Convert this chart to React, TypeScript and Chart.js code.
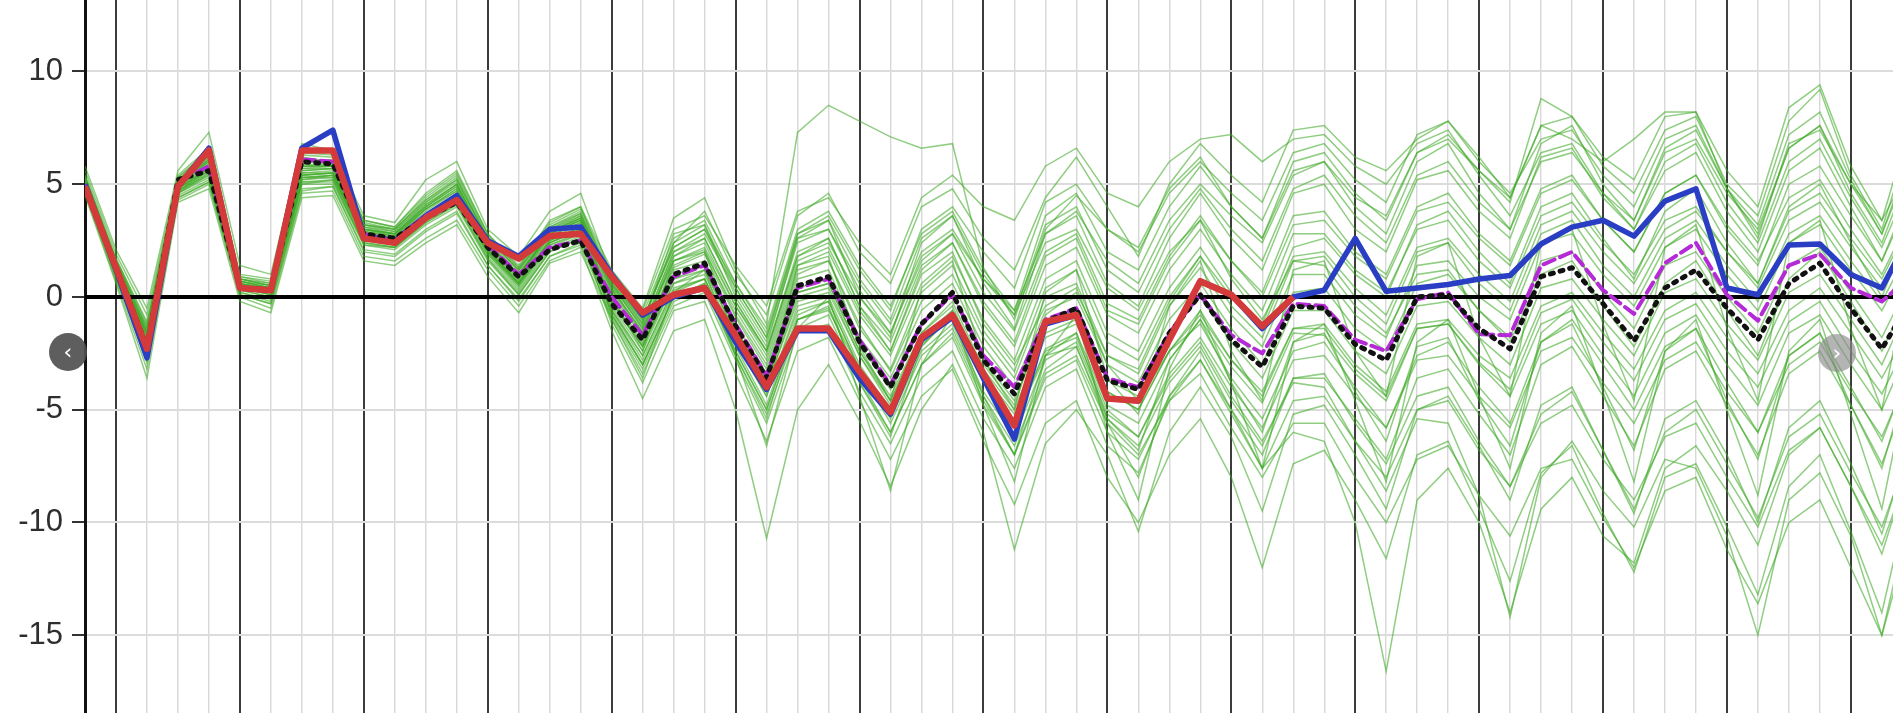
import { useEffect, useRef } from 'react';
import { Chart, registerables } from 'chart.js';

Chart.register(...registerables);

// 6-hourly forecast steps (index along the x axis)
const steps = [0, 1, 2, 3, 4, 5, 6, 7, 8, 9, 10, 11, 12, 13, 14, 15, 16, 17, 18, 19, 20, 21, 22, 23, 24, 25, 26, 27, 28, 29, 30, 31, 32, 33, 34, 35, 36, 37, 38, 39, 40, 41, 42, 43, 44, 45, 46, 47, 48, 49, 50, 51, 52, 53, 54, 55, 56, 57, 58, 59];

const yTicks = [-15, -10, -5, 0, 5, 10];

const redSeries = [4.9, 1.3, -2.3, 4.9, 6.5, 0.4, 0.3, 6.5, 6.5, 2.6, 2.4, 3.5, 4.3, 2.4, 1.7, 2.7, 2.8, 0.9, -0.7, 0.1, 0.4, -1.7, -4.0, -1.4, -1.4, -3.3, -5.1, -1.8, -0.8, -3.4, -5.7, -1.1, -0.8, -4.5, -4.6, -1.9, 0.7, 0.1, -1.3, 0.0];

const blueSeries = [5.0, 1.2, -2.7, 4.9, 6.6, 0.4, 0.3, 6.6, 7.4, 2.7, 2.5, 3.6, 4.5, 2.5, 1.8, 3.0, 3.1, 1.0, -0.8, 0.0, 0.4, -2.0, -4.1, -1.5, -1.5, -3.6, -5.2, -1.9, -0.9, -3.6, -6.3, -1.2, -0.8, -4.5, -4.6, -1.9, 0.7, 0.1, -1.4, 0.0, 0.3, 2.6, 0.25, 0.4, 0.55, 0.8, 0.95, 2.35, 3.1, 3.4, 2.7, 4.25, 4.8, 0.4, 0.1, 2.3, 2.35, 1.0, 0.4, 3.0];

const magentaSeries = [4.9, 1.3, -2.2, 5.1, 5.8, 0.4, 0.3, 6.1, 6.0, 2.8, 2.5, 3.6, 4.3, 2.3, 1.0, 2.2, 2.5, 0.0, -1.7, 0.9, 1.4, -1.2, -3.5, 0.4, 0.8, -1.9, -3.9, -1.2, 0.1, -2.6, -4.0, -1.0, -0.5, -3.6, -4.0, -1.6, 0.1, -1.7, -2.5, -0.3, -0.4, -1.9, -2.4, -0.1, 0.2, -1.65, -1.7, 1.4, 2.0, 0.3, -0.75, 1.5, 2.4, 0.1, -1.05, 1.4, 1.9, 0.4, -0.2, 1.0];

const blackSeries = [4.8, 1.3, -2.2, 5.2, 5.6, 0.4, 0.3, 6.0, 5.9, 2.8, 2.6, 3.5, 4.2, 2.2, 0.9, 2.1, 2.5, -0.3, -1.9, 1.0, 1.5, -1.3, -3.6, 0.5, 0.9, -2.0, -4.0, -1.2, 0.2, -2.8, -4.3, -1.1, -0.5, -3.7, -4.1, -1.6, 0.1, -1.9, -3.1, -0.4, -0.5, -2.1, -2.8, 0.0, 0.1, -1.4, -2.3, 0.9, 1.3, -0.3, -1.95, 0.4, 1.2, -0.5, -1.9, 0.6, 1.5, -0.5, -2.3, 0.0];

const member01 = [5.1, 1.4, -1.8, 5.0, 5.9, 0.6, 0.4, 5.7, 5.8, 3.0, 2.7, 3.9, 4.8, 2.3, 0.9, 2.8, 3.4, 0.5, -1.4, 1.6, 2.1, -0.8, -3.0, 1.2, 1.6, -1.2, -3.3, -0.2, 1.0, -1.8, -3.6, 0.0, 0.6, -2.6, -3.4, -0.4, 1.3, -0.8, -2.2, 1.0, 1.0, -0.8, -1.8, 1.4, 1.6, 0.0, -1.0, 2.4, 2.8, 1.0, -0.4, 2.2, 3.0, 1.0, -0.6, 2.4, 3.2, 1.2, -0.6, 2.0];
const member02 = [4.9, 1.1, -2.3, 4.7, 5.5, 0.4, 0.1, 5.3, 5.3, 2.6, 2.4, 3.5, 4.3, 1.9, 0.5, 2.3, 2.9, -0.6, -2.6, 0.3, 0.8, -2.0, -4.4, -0.4, 0.0, -3.0, -5.0, -2.1, -0.8, -3.8, -5.7, -2.3, -1.6, -4.8, -5.6, -2.8, -1.0, -3.1, -4.7, -1.6, -1.7, -3.4, -4.6, -1.4, -1.2, -2.9, -4.1, -0.7, -0.1, -2.0, -3.7, -1.0, -0.3, -2.4, -4.0, -1.1, -0.2, -2.4, -4.3, -1.5];
const member03 = [5.3, 1.6, -1.4, 5.2, 6.2, 0.8, 0.5, 6.0, 6.1, 3.2, 2.9, 4.2, 5.1, 2.6, 1.2, 3.0, 3.7, 0.8, -1.0, 2.2, 3.0, 0.2, -2.0, 2.4, 3.0, 0.3, -1.6, 1.6, 2.8, 0.2, -1.5, 2.0, 2.8, -0.3, -1.0, 1.8, 3.6, 1.6, 0.0, 3.2, 3.4, 1.8, 0.8, 3.8, 4.2, 2.6, 1.4, 4.6, 5.2, 3.4, 2.0, 4.6, 5.4, 3.2, 1.6, 4.4, 5.2, 3.0, 1.0, 3.8];
const member04 = [4.7, 0.9, -2.7, 4.5, 5.2, 0.2, -0.2, 5.0, 5.0, 2.3, 2.1, 3.2, 4.0, 1.6, 0.1, 2.0, 2.6, -1.0, -3.4, -0.4, 0.2, -2.8, -5.6, -1.6, -1.2, -4.2, -6.5, -3.6, -2.4, -5.4, -7.6, -4.0, -3.2, -6.6, -7.8, -4.6, -2.8, -5.0, -7.0, -3.6, -3.6, -5.4, -7.2, -3.6, -3.2, -5.2, -7.0, -3.0, -2.2, -4.4, -6.6, -3.2, -2.4, -4.8, -7.0, -3.4, -2.4, -4.8, -7.4, -3.6];
const member05 = [5.6, 1.9, -0.8, 5.4, 6.6, 1.0, 0.8, 6.4, 6.3, 3.4, 3.1, 4.6, 5.6, 2.8, 1.4, 3.3, 4.0, 1.2, -0.5, 3.5, 4.4, 1.2, -1.2, 7.3, 8.5, 7.8, 7.1, 6.6, 6.8, 1.3, -1.0, 3.0, 4.5, 3.0, 2.2, 4.8, 6.2, 4.0, 2.6, 5.6, 6.0, 4.0, 2.8, 6.0, 6.8, 4.6, 3.0, 6.8, 7.6, 5.0, 3.4, 6.6, 7.4, 4.8, 2.8, 6.6, 7.6, 4.6, 2.4, 6.0];
const member06 = [4.6, 0.7, -3.2, 4.3, 5.0, 0.0, -0.5, 4.6, 4.7, 1.8, 1.6, 2.6, 3.4, 1.2, -0.4, 1.6, 2.2, -1.5, -4.5, -1.5, -1.0, -5.0, -10.7, -5.0, -3.0, -5.5, -8.4, -5.0, -3.0, -6.0, -11.2, -6.5, -5.0, -7.0, -10.4, -6.0, -4.0, -6.2, -9.5, -5.2, -4.8, -7.0, -9.4, -5.0, -4.4, -6.6, -9.0, -4.8, -4.0, -6.8, -9.6, -5.4, -4.6, -7.0, -10.0, -5.8, -4.6, -7.4, -10.5, -6.0];
const member07 = [5.0, 1.2, -2.1, 4.8, 5.7, 0.5, 0.2, 5.4, 5.5, 2.7, 2.5, 3.7, 4.5, 2.1, 0.6, 2.5, 3.1, -0.8, -3.0, 0.0, 0.6, -2.4, -5.0, -1.0, -0.5, -3.6, -6.0, -3.0, -1.6, -4.6, -7.0, -3.4, -2.6, -5.6, -8.0, -4.4, -2.4, -5.0, -7.6, -6.0, -6.4, -10.0, -16.6, -9.0, -7.6, -10.0, -14.0, -9.4, -8.0, -10.6, -11.8, -7.6, -6.6, -8.6, -11.0, -7.0, -5.8, -8.4, -11.4, -7.0];
const member08 = [4.8, 1.0, -2.5, 4.6, 5.4, 0.3, 0.0, 5.1, 5.2, 2.4, 2.2, 3.3, 4.1, 1.7, 0.2, 2.1, 2.7, -1.2, -3.8, -0.6, -0.2, -3.4, -6.4, -2.4, -1.8, -4.6, -7.2, -4.4, -3.2, -6.4, -9.2, -5.6, -4.6, -8.0, -10.0, -7.0, -5.4, -8.0, -12.0, -7.4, -6.8, -9.0, -11.6, -7.0, -6.4, -9.4, -12.6, -7.8, -6.6, -9.6, -12.2, -8.0, -7.4, -10.2, -13.2, -8.4, -7.0, -10.4, -14.0, -8.0];
const member09 = [5.2, 1.5, -1.7, 5.1, 6.0, 0.7, 0.4, 5.8, 5.9, 3.1, 2.8, 4.0, 4.9, 2.4, 1.0, 2.8, 3.4, -0.4, -2.4, 0.6, 1.2, -1.6, -4.0, 0.0, 0.4, -2.6, -4.8, -2.0, -0.6, -3.6, -5.6, -2.4, -1.8, -5.0, -6.2, -3.6, -2.0, -4.4, -6.4, -3.8, -4.0, -6.4, -8.6, -5.4, -5.6, -8.8, -14.2, -8.0, -6.4, -8.6, -10.2, -7.2, -7.6, -10.6, -15.0, -9.0, -7.8, -10.6, -15.0, -9.0];
const member10 = [5.4, 1.7, -1.2, 5.3, 6.4, 0.9, 0.6, 6.2, 6.0, 3.3, 3.0, 4.4, 5.4, 2.7, 1.3, 3.2, 3.9, 1.0, -0.8, 2.6, 3.4, 0.6, -1.4, 3.0, 3.8, 1.4, -0.4, 2.8, 3.8, 1.2, -0.6, 3.6, 4.6, 2.0, 1.2, 4.0, 5.8, 4.0, 2.6, 6.0, 6.4, 4.6, 3.4, 6.4, 7.2, 5.6, 4.2, 8.8, 8.0, 5.8, 4.6, 7.4, 8.0, 5.0, 3.6, 7.8, 9.2, 5.4, 3.0, 7.4];
const member11 = [5.1, 1.3, -1.9, 5.0, 6.0, 0.6, 0.3, 5.6, 5.7, 2.9, 2.7, 4.0, 5.0, 2.3, 0.9, 2.9, 3.6, 0.6, -1.2, 2.4, 3.8, 1.0, -0.8, 3.6, 4.6, 2.0, 0.6, 4.0, 4.8, 2.6, 1.2, 4.4, 6.2, 4.0, 1.8, 5.0, 6.8, 5.4, 4.2, 7.4, 7.6, 6.2, 5.6, 7.0, 7.8, 6.2, 4.4, 7.6, 7.0, 6.0, 7.0, 8.2, 8.2, 4.8, 2.6, 6.8, 7.4, 5.0, 3.4, 6.0];
const member12 = [5.0, 1.2, -2.0, 4.9, 5.8, 0.5, 0.3, 5.5, 5.6, 2.8, 2.6, 3.8, 4.7, 2.2, 0.8, 2.7, 3.3, 0.2, -1.8, 1.4, 2.0, -0.6, -2.8, 1.4, 2.0, -0.8, -2.6, 0.6, 1.8, -1.0, -2.8, 0.8, 1.6, -1.6, -2.4, 0.4, 2.2, 0.2, -1.4, 1.8, 2.0, 0.4, -0.8, 2.2, 2.6, 1.0, -0.2, 3.2, 3.8, 2.0, 0.6, 3.0, 3.8, 2.0, 0.4, 3.4, 4.2, 2.2, 0.4, 3.0];
const member13 = [4.9, 1.1, -2.2, 4.8, 5.6, 0.4, 0.2, 5.3, 5.4, 2.6, 2.4, 3.6, 4.4, 2.0, 0.6, 2.4, 3.0, -0.3, -2.2, 0.6, 1.0, -1.8, -4.0, -0.2, 0.2, -2.6, -4.6, -1.8, -0.6, -3.4, -5.2, -1.8, -1.2, -4.2, -5.0, -2.4, -0.8, -2.8, -4.2, -1.4, -1.2, -3.0, -4.2, -1.2, -1.0, -2.6, -3.6, -0.4, 0.2, -1.6, -3.2, -0.6, 0.2, -1.8, -3.4, -0.6, 0.4, -1.6, -3.6, -1.0];
const member14 = [5.2, 1.4, -1.6, 5.0, 6.1, 0.7, 0.5, 5.9, 5.8, 3.0, 2.8, 4.1, 5.0, 2.4, 1.0, 2.9, 3.5, 0.4, -1.6, 1.8, 2.6, -0.2, -2.4, 2.0, 2.6, -0.4, -2.4, 1.0, 2.0, -1.2, -3.0, -0.4, 0.4, -3.0, -4.6, -2.4, -1.2, -3.6, -5.4, -2.4, -2.0, -4.0, -5.8, -2.6, -2.0, -4.0, -5.6, -2.0, -1.0, -3.0, -5.0, -2.2, -1.4, -3.8, -6.0, -2.6, -1.6, -4.0, -6.4, -2.8];
const member15 = [4.8, 1.0, -2.4, 4.7, 5.4, 0.3, 0.0, 5.0, 5.2, 2.3, 2.2, 3.4, 4.2, 1.8, 0.3, 2.2, 2.8, -0.8, -3.0, 0.0, 0.4, -2.4, -5.0, -1.0, -0.6, -3.2, -5.2, -2.2, -0.8, -3.0, -4.8, -0.8, 0.2, -2.6, -3.2, -0.2, 1.8, 0.0, -1.2, 2.2, 2.6, 1.0, 0.0, 3.2, 3.8, 2.0, 0.6, 4.0, 4.6, 2.6, 0.8, 3.8, 4.8, 2.4, 0.6, 4.0, 5.0, 2.4, 0.0, 3.4];
const member16 = [5.8, 2.1, -0.5, 5.6, 7.3, 1.4, 1.0, 6.8, 6.5, 3.6, 3.3, 5.2, 6.0, 3.0, 1.8, 3.8, 4.6, 0.9, -0.6, 3.0, 3.6, 1.4, -0.4, 3.8, 4.4, 2.4, 1.0, 4.4, 5.4, 4.0, 3.4, 5.8, 6.6, 4.6, 4.0, 6.0, 7.0, 7.2, 6.0, 7.0, 7.2, 5.8, 5.0, 6.8, 7.4, 5.4, 3.6, 6.4, 6.8, 4.6, 3.0, 6.0, 6.8, 4.2, 2.4, 6.0, 7.0, 4.4, 2.2, 5.4];
const member17 = [4.7, 0.8, -2.8, 4.4, 5.1, 0.1, -0.3, 4.8, 4.9, 2.1, 1.9, 3.0, 3.8, 1.4, -0.1, 1.8, 2.4, -0.6, -2.8, 0.2, 0.8, -2.2, -4.8, -0.8, -0.2, -3.2, -5.6, -2.6, -1.4, -4.4, -6.6, -3.2, -2.2, -5.4, -6.6, -3.8, -2.2, -4.6, -6.6, -3.6, -3.4, -5.6, -7.4, -4.4, -4.0, -6.4, -8.4, -5.2, -4.2, -6.8, -9.4, -6.0, -5.0, -7.4, -9.8, -6.2, -5.2, -7.8, -10.2, -6.4];
const member18 = [5.1, 1.3, -1.8, 4.9, 5.9, 0.6, 0.3, 5.6, 5.7, 2.9, 2.6, 3.9, 4.7, 2.2, 0.8, 2.7, 3.3, 0.3, -1.5, 1.8, 2.4, -0.4, -2.6, 1.6, 2.2, -0.6, -2.4, 1.2, 2.4, -0.4, -2.2, 1.4, 2.2, -0.8, -1.6, 1.2, 3.0, 1.0, -0.6, 2.8, 2.8, 1.2, 0.2, 3.0, 3.4, 1.6, 0.4, 3.6, 4.2, 2.4, 1.0, 3.4, 4.0, 2.0, 0.6, 3.8, 4.6, 2.6, 0.8, 3.6];
const member19 = [4.5, 0.6, -3.6, 4.2, 4.8, -0.2, -0.7, 4.4, 4.5, 1.6, 1.4, 2.4, 3.2, 0.9, -0.7, 1.5, 2.0, -1.0, -3.6, 0.2, 1.2, -2.6, -6.6, -1.4, 0.0, -4.4, -8.6, -3.0, -0.8, -4.8, -8.2, -2.6, -0.8, -6.0, -9.0, -3.2, -0.6, -3.8, -7.6, -2.0, -1.2, -4.6, -8.2, -2.0, -1.0, -4.4, -7.6, -1.6, -0.4, -4.2, -8.2, -2.4, -1.0, -5.0, -8.8, -2.4, -1.0, -5.2, -9.4, -2.6];
const member20 = [5.3, 1.5, -1.5, 5.1, 6.2, 0.8, 0.5, 6.0, 5.9, 3.1, 2.9, 4.2, 5.2, 2.5, 1.1, 3.0, 3.6, 0.7, -1.2, 2.8, 3.2, 0.0, -2.2, 2.6, 3.4, 0.0, -1.8, 2.4, 3.6, 0.6, -1.4, 2.8, 3.6, 0.6, -0.4, 2.6, 4.6, 2.6, 1.2, 4.6, 5.0, 3.0, 2.0, 5.2, 5.6, 3.8, 2.6, 6.2, 6.6, 4.4, 3.0, 5.6, 6.4, 3.8, 2.0, 5.6, 6.6, 4.0, 1.6, 5.0];
const member21 = [5.0, 1.3, -2.0, 4.9, 5.7, 0.5, 0.3, 5.5, 5.5, 2.8, 2.5, 3.7, 4.6, 2.1, 0.7, 2.6, 3.2, 0.1, -2.0, 1.2, 1.6, -1.2, -3.4, 0.8, 1.2, -1.8, -3.6, -0.6, 0.6, -2.2, -4.0, -0.6, 0.0, -3.0, -3.8, -1.0, 0.6, -1.4, -3.0, 0.2, 0.4, -1.4, -2.4, 0.6, 1.0, -0.6, -1.8, 1.6, 2.0, 0.2, -1.4, 1.4, 2.0, 0.0, -1.6, 1.4, 2.2, 0.2, -1.8, 1.0];
const member22 = [4.8, 1.0, -2.3, 4.6, 5.5, 0.4, 0.1, 5.2, 5.3, 2.5, 2.3, 3.4, 4.3, 1.9, 0.4, 2.3, 2.8, -0.5, -2.6, 0.4, 0.8, -2.0, -4.4, -0.6, -0.2, -3.2, -5.4, -2.4, -1.2, -4.2, -6.2, -2.8, -2.0, -5.2, -6.2, -3.4, -1.8, -4.0, -5.8, -2.8, -2.6, -4.4, -5.8, -2.8, -2.6, -4.4, -5.8, -2.4, -1.8, -3.8, -5.6, -2.8, -2.0, -4.2, -6.0, -3.0, -2.0, -4.2, -6.2, -3.0];
const member23 = [5.2, 1.5, -1.6, 5.1, 6.1, 0.7, 0.4, 5.8, 5.8, 3.0, 2.8, 4.1, 5.0, 2.4, 1.0, 2.9, 3.5, 0.5, -1.3, 2.0, 2.8, 0.4, -1.8, 2.6, 3.0, 0.6, -1.2, 2.0, 3.0, 0.8, -0.8, 2.4, 3.0, 0.4, -0.6, 2.0, 3.4, 0.8, -1.0, 1.6, 1.4, -0.4, -1.6, 1.0, 1.2, -0.6, -2.0, 1.0, 1.6, -0.4, -2.2, 0.6, 1.6, -0.6, -2.6, 0.8, 2.0, -0.2, -2.4, 0.6];
const member24 = [4.9, 1.1, -2.2, 4.7, 5.6, 0.4, 0.1, 5.2, 5.4, 2.6, 2.4, 3.5, 4.4, 2.0, 0.5, 2.4, 3.0, -0.2, -2.2, 0.8, 1.4, -1.4, -3.8, 0.2, 0.6, -2.4, -4.6, -1.6, -0.4, -3.4, -5.6, -2.6, -2.2, -5.6, -7.0, -4.6, -3.4, -5.8, -8.0, -5.6, -5.6, -8.0, -10.0, -7.2, -6.6, -8.8, -10.6, -7.6, -7.2, -9.8, -12.0, -8.6, -8.0, -11.2, -13.6, -10.0, -9.0, -12.0, -15.0, -10.0];
const member25 = [5.3, 1.6, -1.3, 5.2, 6.3, 0.8, 0.6, 6.1, 6.0, 3.2, 3.0, 4.3, 5.3, 2.6, 1.2, 3.1, 3.7, 0.4, -1.6, 1.6, 2.2, -0.4, -2.4, 1.8, 2.4, 0.0, -1.6, 1.8, 2.8, 0.8, -0.6, 2.8, 3.8, 1.6, 0.6, 3.4, 5.0, 3.6, 2.4, 5.4, 6.0, 4.4, 3.6, 6.4, 7.0, 5.6, 4.4, 7.6, 8.0, 6.2, 5.2, 8.0, 8.2, 5.6, 4.0, 8.4, 9.4, 5.8, 3.4, 8.0];
const member26 = [5.0, 1.2, -2.1, 4.8, 5.7, 0.5, 0.2, 5.4, 5.5, 2.7, 2.5, 3.7, 4.5, 2.1, 0.6, 2.5, 3.1, 0.0, -2.4, 1.6, 2.0, -1.6, -4.2, 1.4, 1.8, -2.2, -4.6, 0.4, 1.6, -2.8, -5.0, 0.2, 1.2, -3.6, -5.2, -0.4, 1.6, -2.4, -4.6, 1.2, 1.6, -2.4, -4.4, 1.8, 2.4, -1.8, -4.4, 2.4, 3.0, -1.2, -4.6, 2.2, 3.2, -1.4, -4.6, 2.4, 3.4, -1.4, -5.0, 2.0];
const member27 = [4.9, 1.1, -2.2, 4.7, 5.6, 0.4, 0.2, 5.3, 5.4, 2.6, 2.4, 3.6, 4.4, 2.0, 0.6, 2.4, 3.0, -0.2, -2.2, 0.8, 1.2, -1.6, -3.8, 0.2, 0.6, -2.4, -4.4, -1.6, -0.2, -3.2, -5.0, -1.6, -1.0, -4.2, -5.0, -2.4, -0.6, -2.8, -4.4, -1.4, -1.4, -3.2, -4.4, -1.4, -1.2, -3.0, -4.4, -1.2, -0.6, -2.6, -4.4, -1.6, -0.8, -3.0, -4.8, -1.6, -0.8, -3.0, -5.0, -1.8];
const member28 = [5.4, 1.7, -1.1, 5.3, 6.5, 0.9, 0.7, 6.3, 6.2, 3.4, 3.1, 4.5, 5.5, 2.8, 1.3, 3.4, 4.0, 0.6, -1.0, 2.2, 3.0, 0.6, -1.6, 2.8, 3.6, 1.2, -0.6, 3.0, 4.0, 2.0, 0.4, 4.2, 5.0, 3.0, 2.0, 4.6, 6.0, 4.6, 3.4, 6.4, 6.8, 5.2, 4.2, 7.2, 7.8, 6.0, 4.6, 7.0, 7.4, 5.4, 4.0, 7.0, 7.6, 4.8, 3.2, 7.2, 8.2, 5.2, 2.8, 6.6];
const member29 = [5.1, 1.4, -1.7, 5.0, 6.0, 0.6, 0.4, 5.7, 5.7, 2.9, 2.7, 3.9, 4.8, 2.3, 0.9, 2.8, 3.4, 0.3, -1.7, 1.3, 1.9, -0.9, -3.2, 1.0, 1.6, -1.4, -3.2, 0.2, 1.4, -1.5, -3.3, 0.4, 1.2, -2.0, -2.8, 0.0, 1.8, -0.4, -1.8, 1.6, 1.8, 0.0, -1.2, 2.0, 2.4, 0.6, -0.6, 2.8, 3.4, 1.4, 0.0, 2.6, 3.4, 1.4, -0.2, 2.8, 3.6, 1.6, -0.2, 2.4];
const member30 = [4.8, 1.0, -2.6, 4.6, 5.3, 0.2, -0.1, 5.1, 5.1, 2.4, 2.2, 3.3, 4.1, 1.7, 0.1, 2.0, 2.6, -0.7, -3.0, 0.0, 0.6, -2.6, -5.4, -1.0, -0.4, -3.8, -6.2, -2.2, -0.8, -4.4, -7.0, -2.6, -1.6, -5.4, -6.8, -2.8, -1.0, -3.8, -6.0, -2.0, -1.6, -4.2, -6.4, -2.2, -1.8, -4.6, -6.6, -2.0, -1.2, -4.0, -6.8, -2.4, -1.4, -4.6, -7.2, -2.6, -1.6, -4.8, -7.6, -2.8];
const member31 = [5.3, 1.6, -1.4, 5.2, 6.3, 0.8, 0.5, 6.1, 6.0, 3.2, 3.0, 4.3, 5.2, 2.6, 1.2, 3.1, 3.8, 0.8, -1.1, 2.4, 3.2, 0.4, -1.8, 2.8, 3.4, 0.8, -1.0, 2.6, 3.6, 1.0, -0.8, 3.2, 4.0, 1.2, 0.2, 3.0, 4.8, 3.0, 1.6, 4.8, 5.4, 3.6, 2.4, 5.4, 6.0, 4.2, 3.0, 6.0, 6.4, 4.6, 3.4, 6.4, 7.0, 4.6, 3.0, 6.6, 7.6, 5.0, 2.8, 6.2];
const member32 = [5.0, 1.2, -2.1, 4.8, 5.7, 0.5, 0.2, 5.4, 5.5, 2.7, 2.5, 3.7, 4.5, 2.1, 0.7, 2.5, 3.1, -0.1, -2.1, 1.0, 1.4, -1.4, -3.7, 0.4, 0.8, -2.1, -4.1, -1.2, 0.1, -2.8, -4.6, -1.2, -0.6, -3.7, -4.4, -1.6, 0.0, -2.0, -3.6, -0.6, -0.6, -2.4, -3.4, -0.4, -0.2, -1.8, -3.0, 0.4, 0.8, -1.0, -2.6, 0.2, 0.8, -1.2, -2.8, 0.2, 1.0, -1.0, -3.0, 0.0];
const member33 = [4.7, 0.9, -2.9, 4.4, 5.1, 0.1, -0.3, 4.7, 4.9, 2.0, 1.8, 2.9, 3.7, 1.4, -0.2, 1.8, 2.3, -0.9, -3.2, -0.2, 0.4, -2.6, -5.2, -1.4, -0.8, -3.8, -6.0, -3.0, -1.8, -4.8, -7.0, -3.6, -2.8, -6.0, -7.2, -4.4, -2.8, -5.2, -7.6, -4.6, -4.4, -6.4, -8.0, -5.0, -4.6, -6.8, -8.4, -5.6, -4.8, -7.2, -9.0, -6.2, -5.6, -8.0, -10.2, -6.8, -5.8, -8.4, -11.0, -7.2];
const member34 = [5.2, 1.5, -1.6, 5.1, 6.1, 0.7, 0.4, 5.8, 5.8, 3.0, 2.8, 4.0, 4.9, 2.4, 1.0, 2.8, 3.5, 0.6, -1.4, 2.0, 2.6, -0.2, -2.4, 1.8, 2.6, -0.4, -2.0, 1.4, 2.4, -0.2, -2.0, 1.8, 2.6, -0.6, -1.2, 1.6, 3.4, 1.6, 0.2, 3.6, 3.8, 2.0, 1.0, 4.0, 4.6, 2.8, 1.6, 4.8, 5.4, 3.4, 2.0, 4.6, 5.4, 3.0, 1.4, 5.0, 5.8, 3.6, 1.6, 4.6];

const ensembleMembers = [
  member01, member02, member03, member04, member05, member06, member07,
  member08, member09, member10, member11, member12, member13, member14,
  member15, member16, member17, member18, member19, member20, member21,
  member22, member23, member24, member25, member26, member27, member28,
  member29, member30, member31, member32, member33, member34,
];

const toPoints = (values: number[]) => values.map((v, i) => ({ x: steps[i], y: v }));

export default function App() {
  const canvasRef = useRef<HTMLCanvasElement | null>(null);

  useEffect(() => {
    document.body.style.margin = '0';
    const canvas = canvasRef.current;
    if (!canvas) return;

    const mainLine = (label: string, values: number[], color: string, width: number, dash: number[] = []) => ({
      label,
      data: toPoints(values),
      borderColor: color,
      backgroundColor: color,
      borderWidth: width,
      borderDash: dash,
      borderCapStyle: dash.length ? ('round' as const) : ('butt' as const),
      borderJoinStyle: 'round' as const,
      pointRadius: 0,
      tension: 0,
      fill: false,
    });

    const datasets: any[] = [
      mainLine('red', redSeries, '#d43a3a', 6.5),
      mainLine('black', blackSeries, '#111111', 5, [3, 7]),
      mainLine('magenta', magentaSeries, '#b42ad6', 4, [12, 6]),
      mainLine('blue', blueSeries, '#2a3ec4', 5.5),
      {
        label: 'zero',
        data: [{ x: steps[0], y: 0 }, { x: steps[steps.length - 1], y: 0 }],
        borderColor: '#000000',
        borderWidth: 4,
        pointRadius: 0,
        fill: false,
      },
      ...ensembleMembers.map((m, k) => ({
        label: 'member' + (k + 1),
        data: toPoints(m),
        borderColor: 'rgba(62, 168, 38, 0.58)',
        borderWidth: 1.5,
        pointRadius: 0,
        tension: 0,
        fill: false,
      })),
    ];

    const chart = new Chart(canvas, {
      type: 'line',
      data: { datasets },
      options: {
        animation: false,
        responsive: false,
        devicePixelRatio: 1,
        layout: { padding: 0 },
        plugins: { legend: { display: false }, tooltip: { enabled: false } },
        scales: {
          x: {
            type: 'linear',
            min: 0,
            max: 58.36,
            ticks: { display: false, stepSize: 1 },
            grid: {
              drawTicks: false,
              color: (ctx: any) => {
                const v = ctx.tick.value;
                if (Math.abs(v - Math.round(v)) > 0.01) return 'rgba(0,0,0,0)';
                return Math.round(v) % 4 === 1 ? '#3c3c3c' : '#d8d8d8';
              },
              lineWidth: (ctx: any) => (Math.round(ctx.tick.value) % 4 === 1 ? 2 : 1.4),
            },
            border: { display: false },
            afterFit: (scale: any) => {
              scale.height = 0;
              scale.paddingLeft = 0;
              scale.paddingRight = 0;
            },
          },
          y: {
            type: 'linear',
            min: -18.45,
            max: 13.17,
            ticks: {
              stepSize: 5,
              padding: 9,
              color: '#2e2e2e',
              font: { family: '"Liberation Sans", Arial, sans-serif', size: 31 },
              callback: (value: any) => (yTicks.includes(Number(value)) ? String(value) : ''),
            },
            grid: {
              tickLength: 13,
              tickWidth: 2,
              tickColor: (ctx: any) => (yTicks.includes(ctx.tick.value) ? '#333333' : 'rgba(0,0,0,0)'),
              color: (ctx: any) => {
                const v = ctx.tick.value;
                if (v === 0) return '#000000';
                return yTicks.includes(v) ? '#dcdcdc' : 'rgba(0,0,0,0)';
              },
              lineWidth: 2,
            },
            border: { display: true, color: '#111111', width: 3 },
            afterFit: (scale: any) => {
              scale.width = 85;
              scale.paddingTop = 0;
              scale.paddingBottom = 0;
            },
          },
        },
      },
    });

    return () => chart.destroy();
  }, []);

  const btn = {
    position: 'absolute' as const,
    width: 38,
    height: 38,
    borderRadius: '50%',
    color: '#ffffff',
    display: 'flex',
    alignItems: 'center',
    justifyContent: 'center',
    fontFamily: '"DejaVu Sans", sans-serif',
    fontSize: 22,
    lineHeight: '38px',
  };

  return (
    <div style={{ position: 'relative', width: 1893, height: 713, background: '#ffffff', overflow: 'hidden' }}>
      <canvas ref={canvasRef} width={1893} height={713} style={{ display: 'block' }} />
      <div style={{ ...btn, left: 49, top: 333, background: 'rgba(80,80,80,0.92)' }}>‹</div>
      <div style={{ ...btn, left: 1818, top: 334, background: 'rgba(140,140,140,0.65)' }}>›</div>
    </div>
  );
}
